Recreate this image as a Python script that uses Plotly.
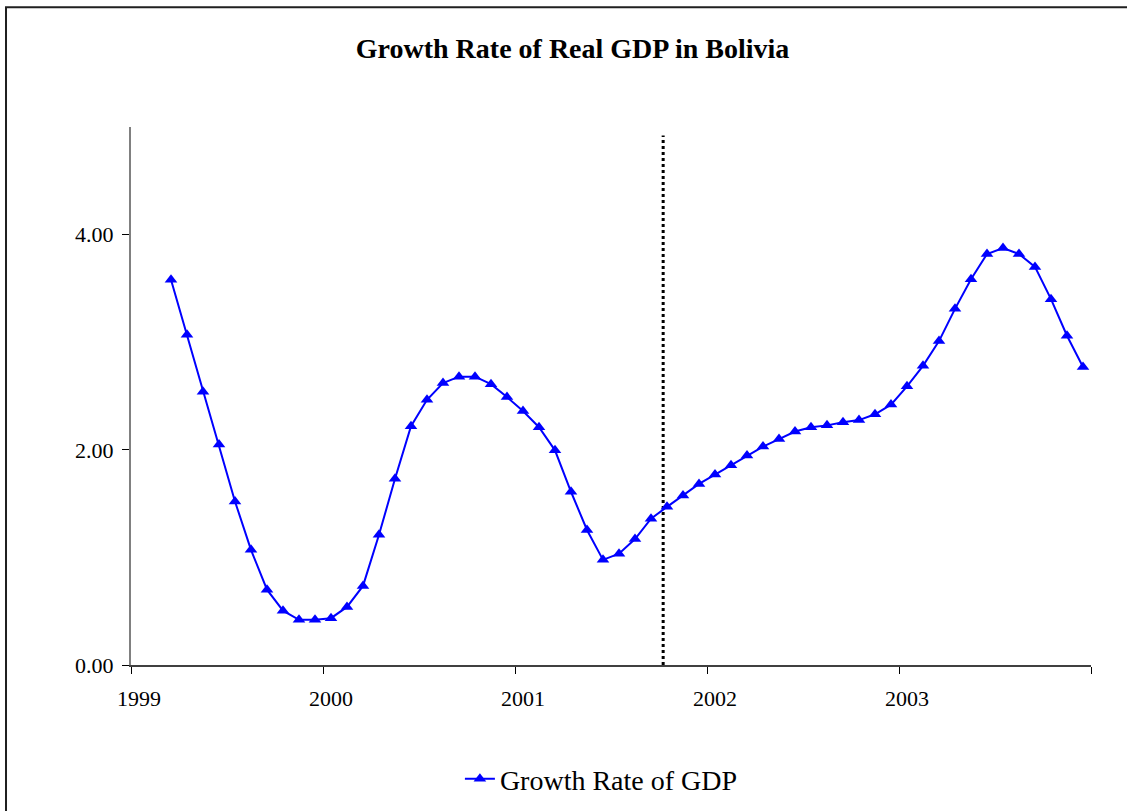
import plotly.graph_objects as go

# ---- data ----
months = [
    "1999-03", "1999-04", "1999-05", "1999-06", "1999-07", "1999-08", "1999-09", "1999-10", "1999-11", "1999-12",
    "2000-01", "2000-02", "2000-03", "2000-04", "2000-05", "2000-06", "2000-07", "2000-08", "2000-09", "2000-10", "2000-11", "2000-12",
    "2001-01", "2001-02", "2001-03", "2001-04", "2001-05", "2001-06", "2001-07", "2001-08", "2001-09", "2001-10", "2001-11", "2001-12",
    "2002-01", "2002-02", "2002-03", "2002-04", "2002-05", "2002-06", "2002-07", "2002-08", "2002-09", "2002-10", "2002-11", "2002-12",
    "2003-01", "2003-02", "2003-03", "2003-04", "2003-05", "2003-06", "2003-07", "2003-08", "2003-09", "2003-10", "2003-11", "2003-12",
]
growth = [
    3.58, 3.07, 2.54, 2.05, 1.52, 1.07, 0.70, 0.505, 0.42, 0.42,
    0.435, 0.54, 0.735, 1.21, 1.73, 2.22, 2.465, 2.62, 2.68, 2.68, 2.61, 2.49,
    2.36, 2.21, 1.995, 1.61, 1.255, 0.977, 1.035, 1.17, 1.36, 1.47, 1.576, 1.683,
    1.77, 1.856, 1.946, 2.03, 2.10, 2.17, 2.21, 2.227, 2.257, 2.276, 2.33, 2.42,
    2.59, 2.78, 3.01, 3.31, 3.585, 3.82, 3.875, 3.82, 3.70, 3.40, 3.06, 2.77,
]
year_labels = ["1999", "2000", "2001", "2002", "2003", ""]
y_ticks = [0, 2, 4]
break_x = 2001.73          # structural break marker
break_y = [0, 4.92]

# ---- helpers ----
def month_pos(s):
    y, m = s.split("-")
    return int(y) + (int(m) - 1) / 12.0

x = [month_pos(m) for m in months]
half = 0.5 / 12.0
year_bounds = [int(v) - half if v else 2004 - half for v in year_labels]

fig = go.Figure()

fig.add_trace(go.Scatter(
    x=[break_x, break_x], y=break_y, mode="lines",
    line=dict(color="black", width=3, dash="dot"),
    showlegend=False, hoverinfo="skip",
))

fig.add_trace(go.Scatter(
    x=x, y=growth, mode="lines+markers", name="Growth Rate of GDP",
    line=dict(color="#0000FF", width=2),
    marker=dict(symbol="triangle-up", size=11, color="#0000FF"),
))

fig.update_layout(
    width=1127, height=811,
    margin=dict(l=131, r=36, t=127, b=146, autoexpand=False),
    paper_bgcolor="white", plot_bgcolor="white",
    font=dict(family="Liberation Serif", color="black"),
    title=dict(
        text="<b>Growth Rate of Real GDP in Bolivia</b>",
        x=0.508, xanchor="center", y=0.941, yanchor="middle",
        font=dict(family="Liberation Serif", size=28, color="black"),
    ),
    showlegend=True,
    legend=dict(
        orientation="h", x=0.49, xanchor="center", y=-0.212, yanchor="middle",
        font=dict(family="Liberation Serif", size=28, color="black"),
        bgcolor="rgba(0,0,0,0)",
    ),
    xaxis=dict(
        range=[1999 - half, 2004 - half],
        tickmode="array", tickvals=year_bounds, ticktext=year_labels,
        ticklabelshift=8, ticklabelstandoff=6,
        ticks="outside", ticklen=7, tickcolor="black", tickwidth=1,
        showline=True, linecolor="#404040", linewidth=2,
        showgrid=False, zeroline=False,
        tickfont=dict(family="Liberation Serif", size=22, color="black"),
    ),
    yaxis=dict(
        range=[0, 5],
        tickmode="array", tickvals=y_ticks, tickformat=".2f",
        ticks="outside", ticklen=7, tickcolor="black", tickwidth=1,
        showline=True, linecolor="#808080", linewidth=2,
        showgrid=False, zeroline=False,
        ticklabelstandoff=4,
        tickfont=dict(family="Liberation Serif", size=22, color="black"),
    ),
    shapes=[dict(
        type="rect", xref="paper", yref="paper",
        x0=-0.1302, x1=1.2, y0=-0.4, y1=1.2226,
        line=dict(color="#202020", width=2), fillcolor="rgba(0,0,0,0)",
        layer="below",
    )],
)

fig.write_html(
    "out.html",
    config={"displayModeBar": False},
    post_script=(
        "document.documentElement.style.margin='0';"
        "document.body.style.margin='0';"
        "document.body.style.padding='0';"
        "document.documentElement.style.overflow='hidden';"
        "document.body.style.overflow='hidden';"
    ),
)
